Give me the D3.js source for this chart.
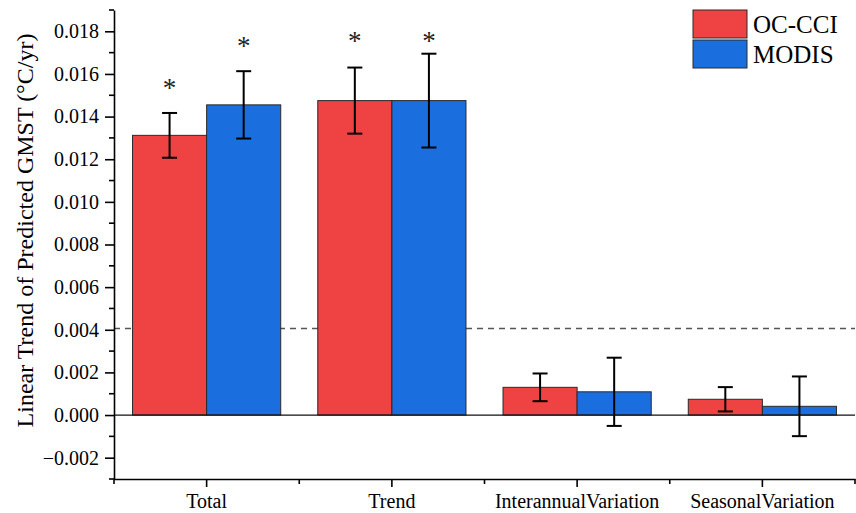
<!DOCTYPE html>
<html>
<head>
<meta charset="utf-8">
<script src="https://cdn.jsdelivr.net/npm/d3@7"></script>
<style>
  body { margin: 0; background: #fff; }
  svg { display: block; font-family: "Liberation Serif", "Times New Roman", serif; }
</style>
</head>
<body>
<svg id="chart"></svg>
<script>
// data
const categories = ["Total", "Trend", "InterannualVariation", "SeasonalVariation"];
const series = ["OC-CCI", "MODIS"];
const ocValues = [0.01312, 0.01475, 0.00130, 0.00074];
const ocErrors = [0.00105, 0.00155, 0.00065, 0.00057];
const modisValues = [0.01455, 0.01475, 0.00109, 0.00041];
const modisErrors = [0.00158, 0.00220, 0.00160, 0.00140];
// asterisk positions (data units), null = no mark
const ocStars = [0.01550, 0.01770, null, null];
const modisStars = [0.01744, 0.01770, null, null];
const threshold = 0.00406;
const yTicks = [-0.002, 0, 0.002, 0.004, 0.006, 0.008, 0.010, 0.012, 0.014, 0.016, 0.018];
const yMinor = [-0.003, -0.001, 0.001, 0.003, 0.005, 0.007, 0.009, 0.011, 0.013, 0.015, 0.017, 0.019];
const colors = ["#EF4242", "#1B6EDD"];

const width = 856, height = 513;
const margin = {top: 10, right: 1, bottom: 34, left: 114};

const svg = d3.select("#chart")
  .attr("width", width)
  .attr("height", height);

const y = d3.scaleLinear()
  .domain([-0.003, 0.019])
  .range([height - margin.bottom, margin.top]);

const x0 = d3.scaleBand()
  .domain(categories)
  .range([margin.left, width - margin.right]);

const x1 = d3.scaleBand()
  .domain(series)
  .range([0, x0.bandwidth()])
  .paddingOuter(0.25);

const rows = categories.map((c, i) => ({
  cat: c,
  bars: [
    {s: series[0], v: ocValues[i], e: ocErrors[i], star: ocStars[i]},
    {s: series[1], v: modisValues[i], e: modisErrors[i], star: modisStars[i]}
  ]
}));

// dashed reference line
svg.append("line")
  .attr("x1", margin.left).attr("x2", width - margin.right)
  .attr("y1", y(threshold)).attr("y2", y(threshold))
  .attr("stroke", "#555")
  .attr("stroke-width", 1.3)
  .attr("stroke-dasharray", "6,5");

const groups = svg.append("g")
  .selectAll("g")
  .data(rows)
  .join("g")
    .attr("transform", d => "translate(" + x0(d.cat) + ",0)");

groups.selectAll("rect")
  .data(d => d.bars)
  .join("rect")
    .attr("x", d => x1(d.s))
    .attr("width", x1.bandwidth())
    .attr("y", d => y(Math.max(0, d.v)))
    .attr("height", d => Math.abs(y(d.v) - y(0)))
    .attr("fill", (d, i) => colors[i])
    .attr("stroke", "#2a2a2a")
    .attr("stroke-width", 1);

// zero line
svg.append("line")
  .attr("x1", margin.left).attr("x2", width - margin.right)
  .attr("y1", y(0)).attr("y2", y(0))
  .attr("stroke", "#111")
  .attr("stroke-width", 1.3);

// error bars
const err = groups.selectAll("g.err")
  .data(d => d.bars)
  .join("g")
    .attr("class", "err")
    .attr("stroke", "#000")
    .attr("stroke-width", 2);

const cx = d => x1(d.s) + x1.bandwidth() / 2;
err.append("line")
  .attr("x1", cx).attr("x2", cx)
  .attr("y1", d => y(d.v + d.e)).attr("y2", d => y(d.v - d.e));
err.append("line")
  .attr("x1", d => cx(d) - 7.5).attr("x2", d => cx(d) + 7.5)
  .attr("y1", d => y(d.v + d.e)).attr("y2", d => y(d.v + d.e));
err.append("line")
  .attr("x1", d => cx(d) - 7.5).attr("x2", d => cx(d) + 7.5)
  .attr("y1", d => y(d.v - d.e)).attr("y2", d => y(d.v - d.e));

// significance stars
groups.selectAll("text.star")
  .data(d => d.bars.filter(b => b.star != null))
  .join("text")
    .attr("class", "star")
    .attr("x", cx)
    .attr("y", d => y(d.star) + 12)
    .attr("text-anchor", "middle")
    .style("font-size", "27px")
    .style("fill", "#222")
    .text("*");

// y axis
const yAxis = svg.append("g")
  .attr("transform", "translate(" + margin.left + ",0)")
  .call(d3.axisLeft(y).tickValues(yTicks).tickFormat(d3.format(".3f")).tickSize(9).tickPadding(6).tickSizeOuter(0))
  .attr("font-family", null).attr("font-size", null);
yAxis.select(".domain").attr("stroke-width", 1.6);
yAxis.selectAll(".tick line").attr("stroke-width", 1.6);
yAxis.selectAll("text").style("font-size", "20px").style("fill", "#000");
yAxis.selectAll(".minor")
  .data(yMinor)
  .join("line")
    .attr("class", "minor")
    .attr("x1", -5).attr("x2", 0)
    .attr("y1", d => y(d)).attr("y2", d => y(d))
    .attr("stroke", "#000")
    .attr("stroke-width", 1.6);

// x axis
const xAxis = svg.append("g")
  .attr("transform", "translate(0," + (height - margin.bottom) + ")")
  .call(d3.axisBottom(x0).tickSize(8).tickPadding(7).tickSizeOuter(0))
  .attr("font-family", null).attr("font-size", null);
xAxis.select(".domain").attr("stroke-width", 1.6);
xAxis.selectAll(".tick line").attr("stroke-width", 1.6);
xAxis.selectAll("text").style("font-size", "20px").style("fill", "#000");
xAxis.selectAll(".minor")
  .data(categories.map(c => x0(c)).concat([x0(categories[categories.length - 1]) + x0.bandwidth()]))
  .join("line")
    .attr("class", "minor")
    .attr("x1", d => d).attr("x2", d => d)
    .attr("y1", 0).attr("y2", 5)
    .attr("stroke", "#000")
    .attr("stroke-width", 1.6);

// y label
svg.append("text")
  .attr("transform", "translate(33," + (margin.top + (height - margin.bottom - margin.top) / 2 - 14) + ") rotate(-90)")
  .attr("text-anchor", "middle")
  .style("font-size", "24px")
  .style("fill", "#000")
  .text("Linear Trend of Predicted GMST (°C/yr)");

// legend
const legend = svg.append("g")
  .selectAll("g")
  .data(series)
  .join("g")
    .attr("transform", (d, i) => "translate(693," + (10 + i * 30) + ")");
legend.append("rect")
  .attr("width", 54).attr("height", 28)
  .attr("fill", (d, i) => colors[i])
  .attr("stroke", "#2a2a2a")
  .attr("stroke-width", 1);
legend.append("text")
  .attr("x", 60).attr("y", 23)
  .style("font-size", "25px")
  .style("fill", "#000")
  .text(d => d);
</script>
</body>
</html>
